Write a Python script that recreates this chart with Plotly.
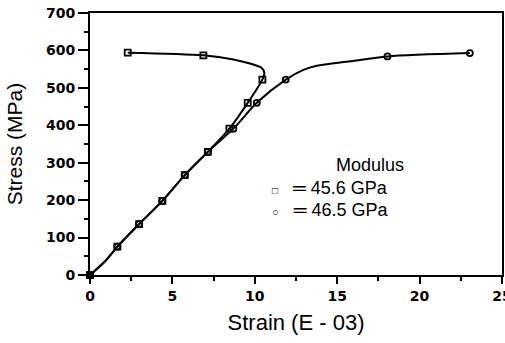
import plotly.graph_objects as go

# Marker points (Strain in E-03, Stress in MPa)
sq_strain = [0, 1.66, 2.98, 4.39, 5.75, 7.15, 8.46, 9.57, 10.46, 6.88, 2.29]
sq_stress = [0, 76, 136, 198, 267, 329, 391, 460, 522, 587, 594]
ci_strain = [0, 1.66, 2.98, 4.39, 5.75, 7.15, 8.70, 10.12, 11.88, 18.05, 23.05]
ci_stress = [0, 76, 136, 198, 267, 329, 391, 460, 522, 584, 593]

# Drawn curve paths
sq_curve_x = [0, 0.9, 1.66, 2.98, 4.39, 5.75, 7.15, 8.46, 9.57, 10.46, 10.58, 10.42, 9.71, 8.70, 6.88, 2.29]
sq_curve_y = [0, 36, 76, 136, 198, 267, 329, 391, 460, 522, 540, 553, 565, 576, 587, 594]
ci_curve_x = [0, 0.9, 1.66, 2.98, 4.39, 5.75, 7.15, 8.70, 10.12, 11.88, 12.95, 13.76, 15.79, 18.05, 23.05]
ci_curve_y = [0, 36, 76, 136, 198, 267, 329, 391, 460, 522, 548, 559, 571, 584, 593]

x_ticks = [0, 5, 10, 15, 20, 25]
y_ticks = [0, 100, 200, 300, 400, 500, 600, 700]

fig = go.Figure()
for cx, cy in [(sq_curve_x, sq_curve_y), (ci_curve_x, ci_curve_y)]:
    fig.add_trace(go.Scatter(x=cx, y=cy, mode="lines",
                             line=dict(color="black", width=2, shape="spline", smoothing=0.8),
                             hoverinfo="skip", showlegend=False, cliponaxis=False))
fig.add_trace(go.Scatter(x=sq_strain, y=sq_stress, mode="markers", name="45.6 GPa",
                         marker=dict(symbol="square-open", size=6, color="black",
                                     line=dict(width=1.8, color="black")),
                         showlegend=False, cliponaxis=False))
fig.add_trace(go.Scatter(x=ci_strain, y=ci_stress, mode="markers", name="46.5 GPa",
                         marker=dict(symbol="circle-open", size=6, color="black",
                                     line=dict(width=1.8, color="black")),
                         showlegend=False, cliponaxis=False))

tickfont = dict(family="DejaVu Sans", size=14, color="black", weight="bold")

fig.update_layout(
    width=505, height=343,
    margin=dict(l=90, r=3, t=13, b=68),
    paper_bgcolor="white", plot_bgcolor="white",
    font=dict(family="Liberation Sans", color="black"),
    xaxis=dict(range=[0, 25], tickvals=x_ticks, ticktext=[str(v) for v in x_ticks],
               ticks="outside", ticklen=7, tickwidth=2, tickcolor="black",
               minor=dict(dtick=2.5, ticks="outside", ticklen=4, tickwidth=1.5, tickcolor="black"),
               showgrid=False, zeroline=False, showline=True, linecolor="black", linewidth=2,
               mirror=True, tickfont=tickfont, automargin=False, ticklabeloverflow="allow",
               title=dict(text="Strain (E - 03)", font=dict(family="Liberation Sans", size=22, color="black"),
                          standoff=12)),
    yaxis=dict(range=[0, 700], tickvals=y_ticks, ticktext=[str(v) for v in y_ticks],
               ticks="outside", ticklen=10, tickwidth=2, tickcolor="black",
               minor=dict(dtick=50, ticks="outside", ticklen=4, tickwidth=1.5, tickcolor="black"),
               showgrid=False, zeroline=False, showline=True, linecolor="black", linewidth=2,
               mirror=True, tickfont=tickfont, automargin=False, ticklabeloverflow="allow",
               title=dict(text="Stress (MPa)", font=dict(family="Liberation Sans", size=21, color="black"),
                          standoff=18)),
    annotations=[
        dict(xref="paper", yref="paper", x=0.68, y=0.421, text="Modulus", showarrow=False,
             xanchor="center", yanchor="middle",
             font=dict(family="Liberation Sans", size=18, color="black")),
        dict(xref="paper", yref="paper", x=0.437, y=0.333,
             text="<span style='font-size:10px'>□</span>&nbsp;&nbsp;&nbsp;═ 45.6 GPa", showarrow=False,
             xanchor="left", yanchor="middle",
             font=dict(family="Liberation Sans", size=18, color="black")),
        dict(xref="paper", yref="paper", x=0.437, y=0.249,
             text="<span style='font-size:11px'>○</span>&nbsp;&nbsp;&nbsp;═ 46.5 GPa", showarrow=False,
             xanchor="left", yanchor="middle",
             font=dict(family="Liberation Sans", size=18, color="black")),
    ],
)

fig.write_html("out.html")
